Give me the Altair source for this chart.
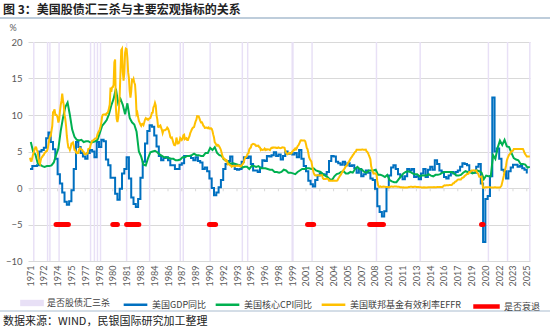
import altair as alt
import pandas as pd

title_text = "图 3：美国股债汇三杀与主要宏观指标的关系"
source_text = "数据来源：WIND，民银国际研究加工整理"
series_names = ["美国GDP同比", "美国核心CPI同比", "美国联邦基金有效利率EFFR"]
series_colors = ["#0070c0", "#00b050", "#ffc000"]
kill_label = "是否股债汇三杀"
recession_label = "是否衰退"
start_year = 1971

# US real GDP YoY, quarterly from 1971Q1
gdp_yoy = [
    2.6, 3.0, 3.0, 3.1,  5.0, 5.2, 5.5, 6.8,  7.6, 6.3, 5.3, 4.0,  1.9, 0.6, -0.6, -1.9,
    -2.3, -1.8, -0.3, 2.6,  6.3, 5.6, 4.8, 4.3,  4.0, 4.8, 5.2, 5.0,  4.2, 6.3, 5.6, 6.6,
    6.4, 3.9, 3.1, 1.4,  1.4, -0.8, -1.6, -0.1,  2.0, 2.6, 4.2, 1.3,  -1.3, -2.2, -2.6, -1.5,
    1.4, 3.6, 6.1, 7.8,  8.6, 8.4, 7.2, 5.7,  4.4, 3.8, 4.1, 4.2,  3.8, 3.1, 3.1, 2.6,
    2.6, 3.2, 3.4, 4.4,  4.4, 4.4, 4.1, 3.8,  4.2, 3.7, 3.5, 2.6,  2.8, 2.3, 1.3, 0.0,
    -1.0, -0.6, 0.1, 1.1,  2.6, 3.3, 3.7, 4.3,  3.3, 2.6, 2.5, 2.6,  3.6, 4.2, 4.1, 4.3,
    3.3, 2.4, 2.4, 2.2,  2.8, 3.8, 3.7, 4.4,  4.3, 4.5, 4.9, 4.4,  4.6, 3.9, 4.4, 5.0,
    4.7, 4.8, 4.6, 4.8,  4.2, 5.2, 4.0, 3.0,  2.3, 1.0, 0.5, 0.2,  1.1, 1.7, 2.0, 1.9,
    1.8, 2.2, 3.7, 4.4,  4.3, 3.6, 3.4, 3.2,  3.6, 3.1, 3.4, 3.0,  3.1, 2.7, 2.1, 2.6,
    1.6, 1.9, 2.4, 2.1,  1.3, 1.1, -0.1, -2.5,  -3.3, -3.9, -3.2, 0.1,  1.7, 2.8, 3.1, 2.6,
    1.9, 1.6, 1.2, 1.6,  2.6, 2.4, 2.6, 1.5,  1.6, 1.2, 2.0, 2.6,  1.5, 2.5, 2.9, 2.5,
    3.8, 3.3, 2.4, 2.2,  1.5, 1.3, 1.7, 2.2,  2.0, 2.2, 2.4, 2.9,  3.4, 3.3, 3.1, 2.3,
    2.1, 2.1, 2.9, 3.3,  0.6, -7.4, -1.5, -1.1,  1.6, 12.4, 5.0, 5.4,  4.0, 2.5, 2.3, 1.3,
    2.3, 2.8, 3.2, 3.2,  2.9, 3.0, 2.7, 2.5,  2.0,
]

# US core CPI YoY, quarterly from 1971Q1
core_cpi_yoy = [
    6.3, 5.0, 4.6, 3.4,  3.2, 3.0, 2.9, 3.0,  3.0, 3.1, 3.5, 4.5,  5.4, 7.8, 9.6, 11.1,
    11.7, 10.0, 8.0, 7.0,  6.6, 6.5, 6.6, 6.3,  6.4, 6.4, 6.2, 6.3,  6.4, 6.6, 7.5, 8.5,
    8.9, 9.3, 10.1, 11.3,  12.2, 13.6, 11.6, 12.2,  11.4, 10.1, 11.6, 9.6,  9.0, 8.7, 7.7, 5.0,
    4.3, 3.2, 3.1, 4.1,  4.9, 5.0, 5.1, 4.9,  4.6, 4.4, 4.2, 4.2,  4.1, 4.0, 4.0, 3.8,
    3.8, 3.9, 4.2, 4.2,  4.4, 4.4, 4.5, 4.7,  4.5, 4.5, 4.4, 4.4,  4.8, 4.8, 5.5, 5.2,
    5.6, 4.8, 4.5, 4.4,  3.9, 3.8, 3.5, 3.3,  3.4, 3.3, 3.2, 3.1,  2.8, 2.9, 2.9, 2.6,
    3.0, 3.0, 2.9, 3.0,  2.7, 2.7, 2.7, 2.6,  2.5, 2.5, 2.2, 2.2,  2.1, 2.2, 2.5, 2.4,
    2.1, 2.1, 2.0, 1.9,  2.2, 2.4, 2.6, 2.6,  2.7, 2.7, 2.6, 2.7,  2.4, 2.3, 2.2, 1.9,
    1.7, 1.5, 1.2, 1.1,  1.6, 1.9, 2.0, 2.2,  2.3, 2.0, 2.0, 2.2,  2.1, 2.6, 2.9, 2.6,
    2.5, 2.2, 2.1, 2.4,  2.4, 2.4, 2.5, 1.8,  1.8, 1.7, 1.5, 1.8,  1.1, 0.9, 0.8, 0.8,
    1.2, 1.6, 2.0, 2.2,  2.3, 2.2, 2.0, 1.9,  1.9, 1.6, 1.7, 1.7,  1.7, 1.9, 1.7, 1.6,
    1.8, 1.8, 1.9, 2.1,  2.2, 2.2, 2.2, 2.2,  2.0, 1.7, 1.7, 1.8,  2.1, 2.3, 2.2, 2.2,
    2.0, 2.1, 2.4, 2.3,  2.1, 1.2, 1.7, 1.6,  1.6, 4.5, 4.0, 5.5,  6.5, 5.9, 6.6, 5.7,
    5.6, 4.8, 4.1, 3.9,  3.8, 3.3, 3.3, 3.2,  2.8, 2.9,
]

# Effective federal funds rate, monthly from 1971-01
effr = [
    4.14, 3.72, 3.71, 4.15, 4.63, 4.91, 5.31, 5.57, 5.55, 5.20, 4.91, 4.14,
    3.50, 3.29, 3.83, 4.17, 4.27, 4.46, 4.55, 4.80, 4.87, 5.04, 5.06, 5.33,
    5.94, 6.58, 7.09, 7.12, 7.84, 8.49, 10.40, 10.50, 10.78, 10.01, 10.03, 9.95,
    9.65, 8.97, 9.35, 10.51, 11.31, 11.93, 12.92, 12.01, 11.34, 10.06, 9.45, 8.53,
    7.13, 6.24, 5.54, 5.49, 5.22, 5.55, 6.10, 6.14, 6.24, 5.82, 5.22, 5.20,
    4.87, 4.77, 4.84, 4.82, 5.29, 5.48, 5.31, 5.29, 5.25, 5.02, 4.95, 4.65,
    4.61, 4.68, 4.69, 4.73, 5.35, 5.39, 5.42, 5.90, 6.14, 6.47, 6.51, 6.56,
    6.70, 6.78, 6.79, 6.89, 7.36, 7.60, 7.81, 8.04, 8.45, 8.96, 9.76, 10.03,
    10.07, 10.06, 10.09, 10.01, 10.24, 10.29, 10.47, 10.94, 11.43, 13.77, 13.18, 13.78,
    13.82, 14.13, 17.19, 17.61, 10.98, 9.47, 9.03, 9.61, 10.87, 12.81, 15.85, 18.90,
    19.08, 15.93, 14.70, 15.72, 18.52, 19.10, 19.04, 17.82, 15.87, 15.08, 13.31, 12.37,
    13.22, 14.78, 14.68, 14.94, 14.45, 14.15, 12.59, 10.12, 10.31, 9.71, 9.20, 8.95,
    8.68, 8.51, 8.77, 8.80, 8.63, 8.98, 9.37, 9.56, 9.45, 9.48, 9.34, 9.47,
    9.56, 9.59, 9.91, 10.29, 10.32, 11.06, 11.23, 11.64, 11.30, 9.99, 9.43, 8.38,
    8.35, 8.50, 8.58, 8.27, 7.97, 7.53, 7.88, 7.90, 7.92, 7.99, 8.05, 8.27,
    8.14, 7.86, 7.48, 6.99, 6.85, 6.92, 6.56, 6.17, 5.89, 5.85, 6.04, 6.91,
    6.43, 6.10, 6.13, 6.37, 6.85, 6.73, 6.58, 6.73, 7.22, 7.29, 6.69, 6.77,
    6.83, 6.58, 6.58, 6.87, 7.09, 7.51, 7.75, 8.01, 8.19, 8.30, 8.35, 8.76,
    9.12, 9.36, 9.85, 9.84, 9.81, 9.53, 9.24, 8.99, 9.02, 8.84, 8.55, 8.45,
    8.23, 8.24, 8.28, 8.26, 8.18, 8.29, 8.15, 8.13, 8.20, 8.11, 7.81, 7.31,
    6.91, 6.25, 6.12, 5.91, 5.78, 5.90, 5.82, 5.66, 5.45, 5.21, 4.81, 4.43,
    4.03, 4.06, 3.98, 3.73, 3.82, 3.76, 3.25, 3.30, 3.22, 3.10, 3.09, 2.92,
    3.02, 3.03, 3.07, 2.96, 3.00, 3.04, 3.06, 3.03, 3.09, 2.99, 3.02, 2.96,
    3.05, 3.25, 3.34, 3.56, 4.01, 4.25, 4.26, 4.47, 4.73, 4.76, 5.29, 5.45,
    5.53, 5.92, 5.98, 6.05, 6.01, 6.00, 5.85, 5.74, 5.80, 5.76, 5.80, 5.60,
    5.56, 5.22, 5.31, 5.22, 5.24, 5.27, 5.40, 5.22, 5.30, 5.24, 5.31, 5.29,
    5.25, 5.19, 5.39, 5.51, 5.50, 5.56, 5.52, 5.54, 5.54, 5.50, 5.52, 5.50,
    5.56, 5.51, 5.49, 5.45, 5.49, 5.56, 5.54, 5.55, 5.51, 5.07, 4.83, 4.68,
    4.63, 4.76, 4.81, 4.74, 4.74, 4.76, 4.99, 5.07, 5.22, 5.20, 5.42, 5.30,
    5.45, 5.73, 5.85, 6.02, 6.27, 6.53, 6.54, 6.50, 6.52, 6.51, 6.51, 6.40,
    5.98, 5.49, 5.31, 4.80, 4.21, 3.97, 3.77, 3.65, 3.07, 2.49, 2.09, 1.82,
    1.73, 1.74, 1.73, 1.75, 1.75, 1.75, 1.73, 1.74, 1.75, 1.75, 1.34, 1.24,
    1.24, 1.26, 1.25, 1.26, 1.26, 1.22, 1.01, 1.03, 1.01, 1.01, 1.00, 0.98,
    1.00, 1.01, 1.00, 1.00, 1.00, 1.03, 1.26, 1.43, 1.61, 1.76, 1.93, 2.16,
    2.28, 2.50, 2.63, 2.79, 3.00, 3.04, 3.26, 3.50, 3.62, 3.78, 4.00, 4.16,
    4.29, 4.49, 4.59, 4.79, 4.94, 4.99, 5.24, 5.25, 5.25, 5.25, 5.25, 5.24,
    5.25, 5.26, 5.26, 5.25, 5.25, 5.25, 5.26, 5.02, 4.94, 4.76, 4.49, 4.24,
    3.94, 2.98, 2.61, 2.28, 1.98, 2.00, 2.01, 2.00, 1.81, 0.97, 0.39, 0.16,
    0.15, 0.22, 0.18, 0.15, 0.18, 0.21, 0.16, 0.16, 0.15, 0.12, 0.12, 0.12,
    0.11, 0.13, 0.16, 0.20, 0.20, 0.18, 0.18, 0.19, 0.19, 0.19, 0.19, 0.18,
    0.17, 0.16, 0.14, 0.10, 0.09, 0.09, 0.07, 0.10, 0.08, 0.07, 0.08, 0.07,
    0.08, 0.10, 0.13, 0.14, 0.16, 0.16, 0.16, 0.13, 0.14, 0.16, 0.16, 0.16,
    0.14, 0.15, 0.14, 0.15, 0.11, 0.09, 0.09, 0.08, 0.08, 0.09, 0.08, 0.09,
    0.07, 0.07, 0.08, 0.09, 0.09, 0.10, 0.09, 0.09, 0.09, 0.09, 0.09, 0.12,
    0.11, 0.11, 0.11, 0.12, 0.12, 0.13, 0.13, 0.14, 0.14, 0.12, 0.12, 0.24,
    0.34, 0.38, 0.36, 0.37, 0.37, 0.38, 0.39, 0.40, 0.40, 0.40, 0.41, 0.54,
    0.65, 0.66, 0.79, 0.90, 0.91, 1.04, 1.15, 1.16, 1.15, 1.15, 1.16, 1.30,
    1.41, 1.42, 1.51, 1.69, 1.70, 1.82, 1.91, 1.91, 1.95, 2.19, 2.20, 2.27,
    2.40, 2.40, 2.41, 2.42, 2.39, 2.38, 2.40, 2.13, 2.04, 1.83, 1.55, 1.55,
    1.55, 1.58, 0.65, 0.05, 0.05, 0.08, 0.09, 0.10, 0.09, 0.09, 0.09, 0.09,
    0.09, 0.08, 0.07, 0.07, 0.06, 0.08, 0.10, 0.09, 0.08, 0.08, 0.08, 0.08,
    0.08, 0.08, 0.20, 0.33, 0.77, 1.21, 1.68, 2.33, 2.56, 3.08, 3.78, 4.10,
    4.33, 4.57, 4.65, 4.83, 5.06, 5.08, 5.12, 5.33, 5.33, 5.33, 5.33, 5.33,
    5.33, 5.33, 5.33, 5.33, 5.33, 5.33, 5.33, 5.33, 5.13, 4.83, 4.64, 4.48,
    4.33, 4.33, 4.33, 4.33, 4.33,
]

# months flagged as stock/bond/dollar triple sell-off (decimal years)
kill_months = [1971.33, 1972.83, 1973.08, 1974.08, 1977.5, 1977.92, 1978.25, 1978.58,
               1981.42, 1983.92, 1987.25, 1987.58, 1990.5, 1994.0, 1994.58, 1999.42,
               1999.5, 2001.58, 2008.58, 2013.33, 2020.75, 2022.83, 2025.25]

# recession periods (decimal years)
recession_start = [1973.83, 1980.0, 1981.5, 1990.5, 2001.17, 2007.92, 2020.08]
recession_end = [1975.17, 1980.5, 1982.83, 1991.17, 2001.83, 2009.42, 2020.25]
recession_level = -5

tick_values = [1971, 1972.5, 1974, 1975.5, 1977, 1978.5, 1980, 1981.5, 1983, 1984.5,
               1986, 1987.5, 1989, 1990.5, 1992, 1993.5, 1995, 1996.5, 1998, 1999.5,
               2001, 2002.5, 2004, 2005.5, 2007, 2008.5, 2010, 2011.5, 2013, 2014.5,
               2016, 2017.5, 2019, 2020.5, 2022, 2023.5, 2025]
y_values = [-10, -5, 0, 5, 10, 15, 20]

CJK = "Noto Sans CJK SC"
NUM = "Lato"

gdp_df = pd.DataFrame({"t": [start_year + i / 4 for i in range(len(gdp_yoy))],
                       "v": gdp_yoy, "series": series_names[0]})
cpi_df = pd.DataFrame({"t": [start_year + i / 4 + 1 / 12 for i in range(len(core_cpi_yoy))],
                       "v": core_cpi_yoy, "series": series_names[1]})
effr_df = pd.DataFrame({"t": [start_year + i / 12 for i in range(len(effr))],
                        "v": effr, "series": series_names[2]})
kill_df = pd.DataFrame({"t": kill_months, "t2": [m + 0.16 for m in kill_months],
                        "label": kill_label})
rec_df = pd.DataFrame({"s": recession_start, "e": recession_end,
                       "lvl": recession_level, "label": recession_label})
tick_df = pd.DataFrame({"t": tick_values})

xs = alt.Scale(domain=[1970.78, 2025.35], nice=False, zero=False)
ys = alt.Scale(domain=[-10, 20], nice=False, zero=False)
x_axis = alt.Axis(values=tick_values, labelExpr="floor(datum.value)", labelAngle=-90,
                  grid=False, domain=False, ticks=False, title=None, labelFont=NUM,
                  labelFontSize=9, labelColor="#595959", labelPadding=4, labelOverlap=False)
y_axis = alt.Axis(values=y_values, grid=True, gridColor="#d9d9d9", gridWidth=1,
                  domain=False, ticks=False, title=None, labelFont=NUM, labelFontSize=9.5,
                  labelColor="#595959", labelPadding=6)


def X(field):
    return alt.X(field, type="quantitative", scale=xs, axis=x_axis)


def Y(field):
    return alt.Y(field, type="quantitative", scale=ys, axis=y_axis)


line_legend = alt.Legend(orient="none", legendX=94, legendY=249, direction="horizontal",
                         title=None, symbolType="stroke", symbolStrokeWidth=2.5,
                         symbolSize=560, columnPadding=3, labelFont=CJK, labelFontSize=9,
                         labelColor="#404040", labelOffset=3, padding=0)
color_scale = alt.Scale(domain=series_names, range=series_colors)

kill = alt.Chart(kill_df).mark_bar().encode(
    x=X("t"), x2="t2",
    y=alt.YDatum(20, type="quantitative", scale=ys, axis=y_axis),
    y2=alt.Y2Datum(-10),
    fill=alt.Fill("label:N", scale=alt.Scale(domain=[kill_label], range=["#e8e0f6"]),
                  legend=alt.Legend(orient="none", legendX=-8, legendY=249, title=None,
                                    symbolType="M-1,-0.27H1V0.27H-1Z", symbolSize=560,
                                    symbolStrokeWidth=0, labelFont=CJK, labelFontSize=9,
                                    labelColor="#404040", labelOffset=3, padding=0)),
)

ticks = alt.Chart(tick_df).mark_rule(color="#d9d9d9", strokeWidth=1).encode(
    x=X("t"),
    y=alt.YDatum(0, type="quantitative", scale=ys, axis=y_axis),
    y2=alt.Y2Datum(-0.45),
)

gdp = alt.Chart(gdp_df).mark_line(strokeWidth=2, interpolate="step-after").encode(
    x=X("t"), y=Y("v"),
    color=alt.Color("series:N", scale=color_scale, legend=line_legend),
)
cpi = alt.Chart(cpi_df).mark_line(strokeWidth=2).encode(
    x=X("t"), y=Y("v"),
    color=alt.Color("series:N", scale=color_scale, legend=line_legend),
)
eff = alt.Chart(effr_df).mark_line(strokeWidth=2).encode(
    x=X("t"), y=Y("v"),
    color=alt.Color("series:N", scale=color_scale, legend=line_legend),
)

rec = alt.Chart(rec_df).mark_rule(strokeWidth=5, strokeCap="round").encode(
    x=X("s"), x2="e", y=Y("lvl"),
    stroke=alt.Stroke("label:N", scale=alt.Scale(domain=[recession_label], range=["#ff0000"]),
                      legend=alt.Legend(orient="none", legendX=443, legendY=249, title=None,
                                        symbolType="stroke", symbolStrokeWidth=4.5,
                                        symbolSize=700, labelFont=CJK, labelFontSize=9,
                                        labelColor="#404040", labelOffset=2, padding=0)),
)

one = pd.DataFrame({"txt": [title_text]})
title = alt.Chart(one).mark_text(align="left", baseline="middle", font=CJK, fontSize=12,
                                 fontWeight="bold", color="#222222").encode(
    text="txt:N", x=alt.value(-25), y=alt.value(-32))
title_line = alt.Chart(one).mark_rule(color="#a9bccf", strokeWidth=1.5).encode(
    x=alt.value(-28), x2=alt.value(522), y=alt.value(-24))
pct = alt.Chart(pd.DataFrame({"txt": ["%"]})).mark_text(
    align="center", baseline="middle", font=NUM, fontSize=9, color="#595959").encode(
    text="txt:N", x=alt.value(-15), y=alt.value(-14))
src_line = alt.Chart(one).mark_rule(color="#a9bccf", strokeWidth=1).encode(
    x=alt.value(-28), x2=alt.value(522), y=alt.value(269))
src = alt.Chart(pd.DataFrame({"txt": [source_text]})).mark_text(
    align="left", baseline="middle", font=CJK, fontSize=11, color="#222222").encode(
    text="txt:N", x=alt.value(-25), y=alt.value(280))

chart = alt.layer(kill, ticks, gdp, cpi, eff, rec, title, title_line, pct, src_line, src).properties(
    width=502, height=219,
    autosize=alt.AutoSizeParams(type="none"),
    padding={"left": 28, "top": 42, "right": 20, "bottom": 68},
).configure_view(stroke=None)

chart.save("out.html", embed_options={"renderer": "svg", "actions": False})
